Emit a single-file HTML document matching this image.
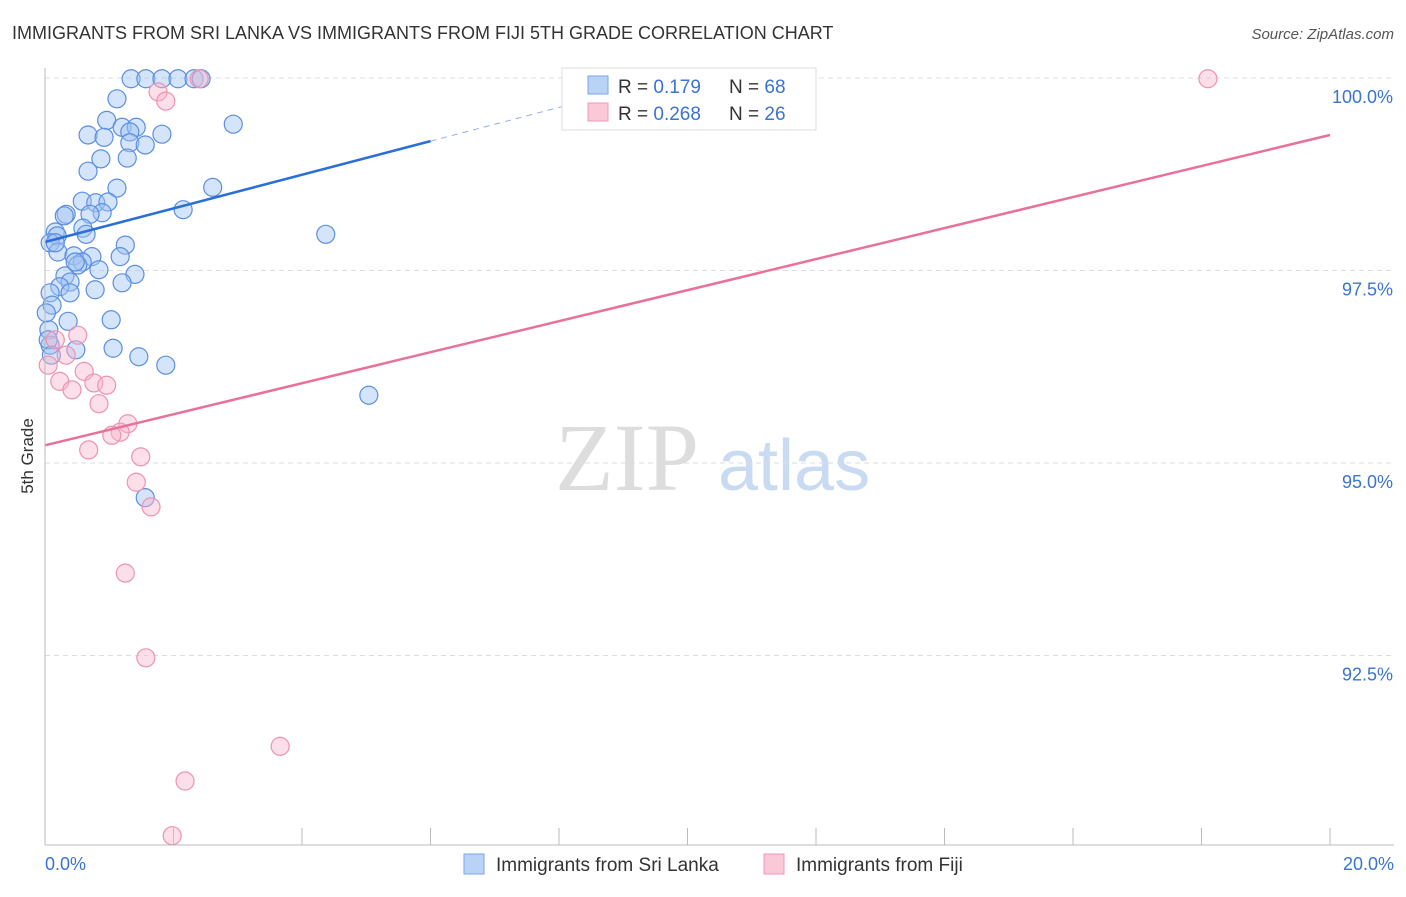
<!DOCTYPE html>
<html><head><meta charset="utf-8"><style>
body{margin:0;background:#fff;font-family:"Liberation Sans",sans-serif;}
</style></head><body>
<svg id="chart" width="1406" height="892" xmlns="http://www.w3.org/2000/svg" font-family="Liberation Sans, sans-serif">
<text x="12" y="39" font-size="18" fill="#333">IMMIGRANTS FROM SRI LANKA VS IMMIGRANTS FROM FIJI 5TH GRADE CORRELATION CHART</text>
<text x="1394" y="39" font-size="15" fill="#555" text-anchor="end" font-style="italic">Source: ZipAtlas.com</text>
<text transform="translate(33,456) rotate(-90)" font-size="17" fill="#333" text-anchor="middle">5th Grade</text>
<text x="555" y="490" font-size="96" fill="#ddd" font-family="Liberation Serif, serif">ZIP</text>
<text x="718" y="490" font-size="72" fill="#c9daf3">atlas</text>
<g id="grid"></g><g id="marks"></g><g id="lines"></g>
<line x1="45" y1="68" x2="45" y2="845" stroke="#bbb"/>
<line x1="45" y1="845" x2="1394" y2="845" stroke="#bbb"/>
<g>
<rect x="562" y="68" width="254" height="62" fill="#fff" stroke="#ddd"/>
<rect x="588" y="76" width="20" height="18" fill="#b9d3f7" stroke="#7aa6e6"/>
<rect x="588" y="103" width="20" height="18" fill="#fac8d7" stroke="#ee9ab5"/>
<text x="618" y="93" font-size="19" fill="#333">R = <tspan fill="#3b73d3"> 0.179</tspan></text>
<text x="729" y="93" font-size="19" fill="#333">N = <tspan fill="#3b73d3">68</tspan></text>
<text x="618" y="120" font-size="19" fill="#333">R = <tspan fill="#3b73d3">0.268</tspan></text>
<text x="729" y="120" font-size="19" fill="#333">N = <tspan fill="#3b73d3">26</tspan></text>
</g>
<g>
<rect x="464" y="854" width="20" height="20" fill="#b9d3f7" stroke="#7aa6e6"/>
<text x="496" y="871" font-size="19" fill="#333">Immigrants from Sri Lanka</text>
<rect x="764" y="854" width="20" height="20" fill="#fac8d7" stroke="#ee9ab5"/>
<text x="796" y="871" font-size="19" fill="#333">Immigrants from Fiji</text>
</g>
</svg>
<script>
const yTicks=[100,97.5,95,92.5];
const yTickLabels=["100.0%","97.5%","95.0%","92.5%"];
const xTickLabels=["0.0%","20.0%"];
const blueX=[1.34,1.57,1.82,2.07,2.32,2.43,1.12,0.96,1.20,1.42,2.93,0.67,0.92,1.32,1.82,1.32,1.56,0.87,1.28,0.67,1.12,2.61,0.58,0.79,0.98,0.89,0.33,0.30,0.70,2.15,0.59,0.64,0.16,0.19,0.08,1.25,4.37,0.20,0.45,0.73,1.17,0.58,0.51,0.84,1.40,0.31,0.39,1.20,0.23,0.08,0.78,0.39,0.06,0.36,1.03,0.08,0.48,1.06,1.46,1.88,5.04,1.56,0.11,0.05,0.16,0.47,0.02,0.10];
const blueY=[99.99,99.99,99.99,99.99,99.99,99.99,99.73,99.45,99.36,99.36,99.40,99.26,99.23,99.30,99.27,99.16,99.13,98.95,98.96,98.79,98.57,98.58,98.40,98.38,98.39,98.25,98.23,98.21,98.23,98.29,98.05,97.97,98.00,97.95,97.86,97.83,97.97,97.74,97.69,97.68,97.68,97.61,97.57,97.51,97.45,97.43,97.35,97.34,97.29,97.21,97.25,97.21,96.73,96.84,96.86,96.53,96.47,96.49,96.38,96.27,95.88,94.55,97.05,96.60,97.86,97.61,96.95,96.40];
const pinkX=[2.40,18.10,1.76,1.88,0.51,0.16,0.33,0.05,0.61,0.23,0.76,0.96,0.42,0.84,1.29,1.17,1.04,0.68,1.49,1.42,1.65,1.25,1.57,3.66,2.18,1.98];
const pinkY=[99.99,99.99,99.82,99.70,96.66,96.60,96.40,96.27,96.19,96.06,96.04,96.01,95.95,95.77,95.51,95.40,95.36,95.17,95.08,94.75,94.43,93.57,92.47,91.32,90.87,90.16];
const blueTrend=[97.87,99.18,99.75];const blueTrendX=[0,6,8.6];
const pinkTrend=[95.23,99.26];const pinkTrendX=[0,20];
const X=v=>45+v*64.25, Y=v=>78+(100-v)*77;
const NS="http://www.w3.org/2000/svg";
function mk(t,a,p){const e=document.createElementNS(NS,t);for(const k in a)e.setAttribute(k,a[k]);p.appendChild(e);return e;}
const grid=document.getElementById('grid'),marks=document.getElementById('marks'),lines=document.getElementById('lines');
yTicks.forEach((t,i)=>{const l=mk('line',{x1:45,x2:1394,y1:Y(t),y2:Y(t),stroke:'#ddd','stroke-dasharray':'5,4'},grid);


const tx=mk('text',{x:1393,y:Y(t)+25,'font-size':18,fill:'#3b73d3','text-anchor':'end'},grid);tx.textContent=yTickLabels[i];

});
for(let v=0;v<=20;v+=2){const l=mk('line',{x1:X(v),x2:X(v),y1:828,y2:845,stroke:'#bbb'},grid);

}
[[0,'start',45],[20,'end',1394]].forEach((d,i)=>{const tx=mk('text',{x:d[2],y:870,'font-size':18,fill:'#3b73d3','text-anchor':d[1]},grid);tx.textContent=xTickLabels[i];

});
blueX.forEach((x,i)=>{const c=mk('circle',{cx:X(x),cy:Y(blueY[i]),r:9,fill:'rgba(160,195,245,0.45)',stroke:'#5b8fe0','stroke-width':1.2},marks);

});
pinkX.forEach((x,i)=>{const c=mk('circle',{cx:X(x),cy:Y(pinkY[i]),r:9,fill:'rgba(248,185,205,0.45)',stroke:'#ec93b0','stroke-width':1.2},marks);

});
let l=mk('line',{x1:X(blueTrendX[0]),y1:Y(blueTrend[0]),x2:X(blueTrendX[1]),y2:Y(blueTrend[1]),stroke:'#2a6fd6','stroke-width':2.5},lines);


l=mk('line',{x1:X(blueTrendX[1]),y1:Y(blueTrend[1]),x2:X(blueTrendX[2]),y2:Y(blueTrend[2]),stroke:'#8fb2e8','stroke-width':1,'stroke-dasharray':'6,5'},lines);


l=mk('line',{x1:X(pinkTrendX[0]),y1:Y(pinkTrend[0]),x2:X(pinkTrendX[1]),y2:Y(pinkTrend[1]),stroke:'#e8709a','stroke-width':2.5},lines);


</script>
</body></html>
